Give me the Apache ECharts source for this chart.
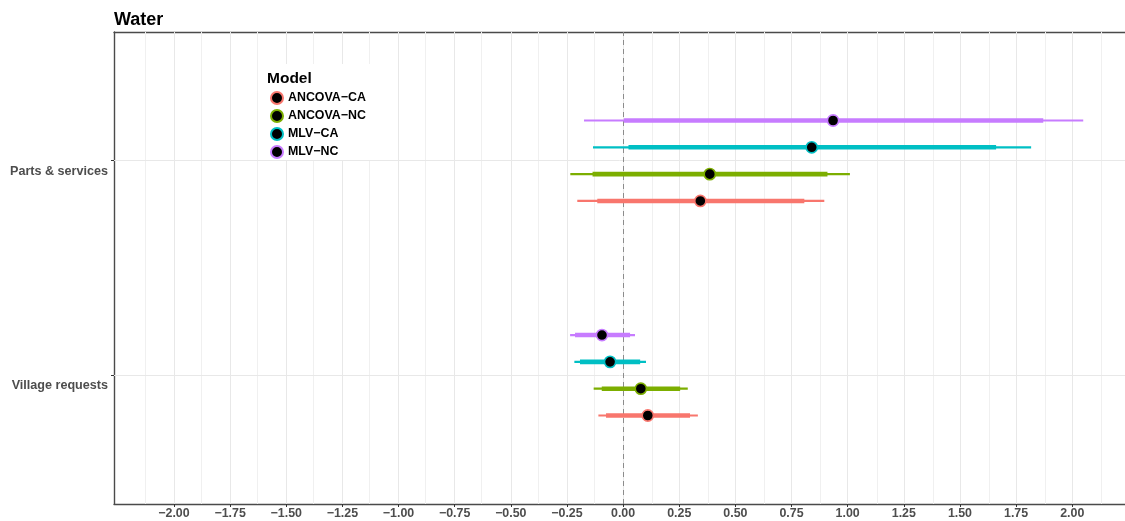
<!DOCTYPE html>
<html>
<head>
<meta charset="utf-8">
<script src="https://cdn.jsdelivr.net/npm/echarts@6/dist/echarts.min.js"></script>
<style>
html,body{margin:0;padding:0;background:#fff;}
#chart{width:1125px;height:521px;}
</style>
</head>
<body>
<div id="chart"></div>
<script>
// ---- data ----
const categories = ['Village requests', 'Parts & services'];
const models = ['ANCOVA-CA', 'ANCOVA-NC', 'MLV-CA', 'MLV-NC'];
const colors = ['#F8766D', '#7CAE00', '#00BFC4', '#C77CFF'];
// per model: [Village requests, Parts & services]
const estimate = [[0.110, 0.344], [0.079, 0.386], [-0.058, 0.840], [-0.094, 0.935]];
const lower95  = [[-0.110, -0.204], [-0.131, -0.235], [-0.217, -0.134], [-0.236, -0.174]];
const upper95  = [[0.333, 0.896], [0.288, 1.010], [0.102, 1.817], [0.053, 2.049]];
const lower50  = [[-0.076, -0.115], [-0.095, -0.136], [-0.192, 0.024], [-0.214, 0.004]];
const upper50  = [[0.298, 0.807], [0.254, 0.910], [0.076, 1.661], [0.031, 1.871]];
const xTicks = [-2, -1.75, -1.5, -1.25, -1, -0.75, -0.5, -0.25, 0, 0.25, 0.5, 0.75, 1, 1.25, 1.5, 1.75, 2];
const xMinor = [-2.125, -1.875, -1.625, -1.375, -1.125, -0.875, -0.625, -0.375, -0.125, 0.125, 0.375, 0.625, 0.875, 1.125, 1.375, 1.625, 1.875, 2.125];

const FONT = 'Liberation Sans';
const dodgeWidth = 0.5;
const disp = s => s.replace(/-/g, '\u2212');

function makeSeries(mi) {
  const offset = (mi - (models.length - 1) / 2) * dodgeWidth / models.length;
  const data = categories.map((c, ci) => [ci + 1, estimate[mi][ci], lower95[mi][ci], upper95[mi][ci], lower50[mi][ci], upper50[mi][ci]]);
  return {
    type: 'custom',
    name: disp(models[mi]),
    z: 5,
    data: data,
    encode: { x: [1, 2, 3, 4, 5], y: 0 },
    itemStyle: { color: colors[mi] },
    renderItem: function (params, api) {
      const yv = api.value(0) + offset;
      const pE = api.coord([api.value(1), yv]);
      const pL95 = api.coord([api.value(2), yv]);
      const pH95 = api.coord([api.value(3), yv]);
      const pL50 = api.coord([api.value(4), yv]);
      const pH50 = api.coord([api.value(5), yv]);
      return {
        type: 'group',
        children: [
          { type: 'line', shape: { x1: pL95[0], y1: pL95[1], x2: pH95[0], y2: pH95[1] },
            style: { stroke: colors[mi], lineWidth: 2.2 } },
          { type: 'line', shape: { x1: pL50[0], y1: pL50[1], x2: pH50[0], y2: pH50[1] },
            style: { stroke: colors[mi], lineWidth: 4.6 } },
          { type: 'circle', shape: { cx: pE[0], cy: pE[1], r: 5.6 },
            style: { fill: '#000', stroke: colors[mi], lineWidth: 1.6 } }
        ]
      };
    }
  };
}

const gridLines = [];
xMinor.forEach(v => gridLines.push({ xAxis: v, lineStyle: { color: '#F0F0F0', width: 1, type: 'solid' } }));
xTicks.forEach(v => gridLines.push({ xAxis: v, lineStyle: { color: '#E8E8E8', width: 1, type: 'solid' } }));
categories.forEach((c, i) => gridLines.push({ yAxis: i + 1, lineStyle: { color: '#E8E8E8', width: 1, type: 'solid' } }));
gridLines.push({ xAxis: 0, lineStyle: { color: '#8C8C8C', width: 1, type: [5, 4] } });

const series = [{
  type: 'line',
  name: '_grid',
  data: [[0, 1]],
  showSymbol: false,
  lineStyle: { opacity: 0 },
  silent: true,
  z: 1,
  markLine: {
    silent: true,
    symbol: ['none', 'none'],
    label: { show: false },
    animation: false,
    data: gridLines
  }
}];
models.forEach((m, i) => series.push(makeSeries(i)));

const AXIS_COLOR = '#4a4a4a';
const chart = echarts.init(document.getElementById('chart'), null, { renderer: 'canvas' });
chart.setOption({
  animation: false,
  backgroundColor: '#fff',
  textStyle: { fontFamily: FONT },
  title: [
    { text: 'Water', left: 114, top: 11, padding: 0, textStyle: { fontFamily: FONT, fontSize: 18, fontWeight: 'bold', color: '#000' } },
    { text: 'Model', left: 267, top: 71, padding: 0, z: 8, textStyle: { fontFamily: FONT, fontSize: 15.5, fontWeight: 'bold', color: '#000' } }
  ],
  graphic: [{
    type: 'rect', z: 6, silent: true,
    shape: { x: 260, y: 64, width: 114, height: 96 },
    style: { fill: '#fff' }
  }],
  legend: {
    orient: 'vertical',
    left: 270, top: 91, padding: 0, z: 8,
    itemWidth: 12, itemHeight: 12, itemGap: 4,
    textStyle: { fontFamily: FONT, fontSize: 12.4, fontWeight: 'bold', color: '#000' },
    data: models.map((m, i) => ({
      name: disp(m), icon: 'circle',
      itemStyle: { color: '#000', borderColor: colors[i], borderWidth: 2 }
    })),
    selectedMode: false
  },
  grid: {
    left: 114, right: 0, top: 32, bottom: 17,
    show: false
  },
  xAxis: [{
    type: 'value',
    min: -2.267, max: 2.235,
    axisLine: { show: true, lineStyle: { color: AXIS_COLOR, width: 1.4 } },
    axisTick: { show: true, customValues: xTicks, length: 3, lineStyle: { color: '#333' } },
    axisLabel: {
      customValues: xTicks, margin: 4,
      fontFamily: FONT, fontSize: 12.4, fontWeight: 'bold', color: '#4D4D4D',
      formatter: v => disp(Number(v).toFixed(2))
    },
    splitLine: { show: false }
  }, {
    type: 'value', position: 'top',
    min: -2.267, max: 2.235,
    axisLine: { show: true, onZero: false, lineStyle: { color: AXIS_COLOR, width: 1.4 } },
    axisTick: { show: false }, axisLabel: { show: false }, splitLine: { show: false }
  }],
  yAxis: {
    type: 'value',
    min: 0.4, max: 2.6,
    axisLine: { show: true, onZero: false, lineStyle: { color: AXIS_COLOR, width: 1.4 } },
    axisTick: { show: true, customValues: [1, 2], length: 3, lineStyle: { color: '#333' } },
    axisLabel: {
      customValues: [1, 2], margin: 6,
      fontFamily: FONT, fontSize: 12.6, fontWeight: 'bold', color: '#4D4D4D',
      verticalAlign: 'top', lineHeight: 21,
      formatter: v => categories[Math.round(v) - 1]
    },
    splitLine: { show: false }
  },
  series: series
});
</script>
</body>
</html>
